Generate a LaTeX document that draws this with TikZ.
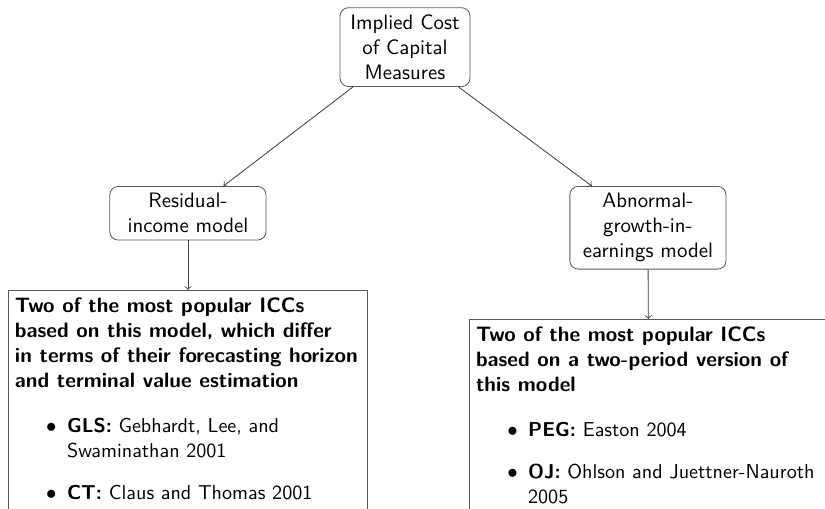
\documentclass[tikz,border=0pt]{standalone}
\usepackage{tikz}
\usepackage{amsmath}
\renewcommand{\familydefault}{\sfdefault}
\renewcommand{\labelitemi}{$\bullet$}
\newcommand{\iccitemfont}{\fontsize{9.65pt}{12pt}\selectfont}
\definecolor{framegray}{gray}{0.35}
\usetikzlibrary{calc}
\usetikzlibrary{positioning}

\begin{document}
\begin{tikzpicture}[
  modelbox/.style={rectangle,rounded corners=4pt,draw=framegray,align=center},
  iccbox/.style={rectangle,draw=framegray,anchor=north},
  link/.style={->,draw=black!75}]
 \useasboundingbox (0,0) rectangle (396pt,-244.3pt);
 \clip (0,0) rectangle (396pt,-244.3pt);
 \node[modelbox,text width=55.7pt] (icc) at (194.4pt,-22.6pt) {Implied Cost\\ of Capital\\ Measures};
 \node[modelbox,anchor=north,text width=68.3pt] (rim) at (90.2pt,-89.3pt) {Residual-\\ income model};
 \node[modelbox,anchor=north,text width=68.3pt] (aeg) at (311pt,-89.3pt) {Abnormal-\\ growth-in-\\ earnings model};
 \node[iccbox] (rimlist) at (90.2pt,-139.2pt) {\begin{minipage}[t]{166pt}\raggedright
 \textbf{Two of the most popular ICCs\\ based on this model, which differ\\ in terms of their forecasting horizon\\ and terminal value estimation}\par
 \vspace{0pt}
 \begin{itemize}\iccitemfont
  \item \textbf{GLS:} Gebhardt, Lee, and\\ Swaminathan 2001
  \item \textbf{CT:} Claus and Thomas 2001
 \end{itemize}
 \vspace{30pt}\end{minipage}};
 \node[iccbox] (aeglist) at (311.5pt,-153.1pt) {\begin{minipage}[t]{166pt}\raggedright
 \textbf{Two of the most popular ICCs\\ based on a two-period version of\\ this model}\par
 \vspace{0pt}
 \begin{itemize}\iccitemfont
  \item \textbf{PEG:} Easton 2004
  \item \textbf{OJ:} Ohlson and Juettner-Nauroth\\ 2005
 \end{itemize}
 \vspace{30pt}\end{minipage}};
 \draw[link] (icc) -- (rim);
 \draw[link] (icc) -- (aeg);
 \draw[link] (rim) -- (rimlist);
 \draw[link] (aeg) -- (aeglist);
\end{tikzpicture}
\end{document}
